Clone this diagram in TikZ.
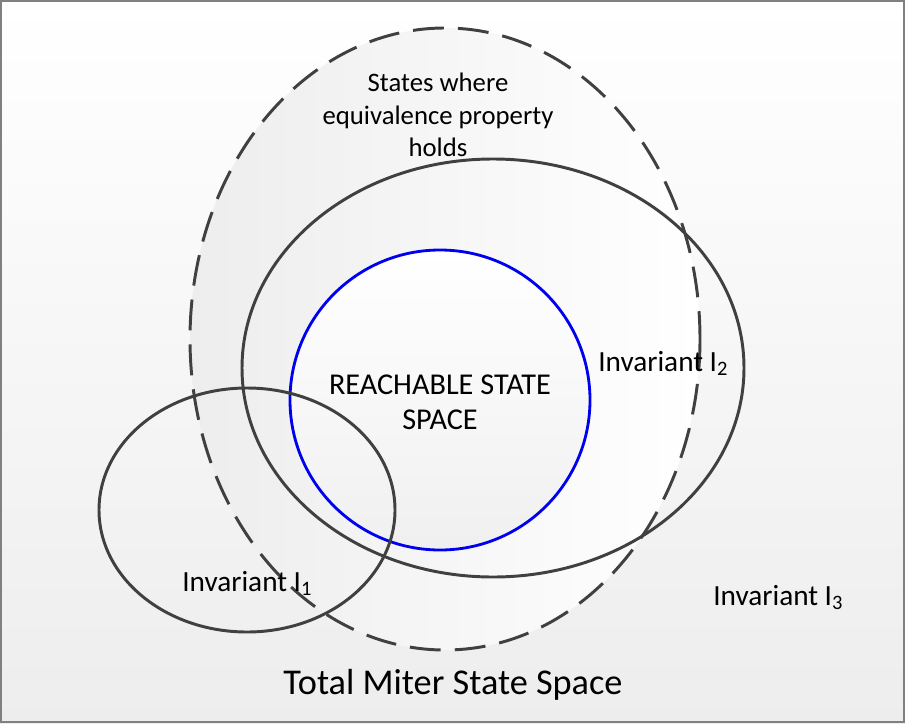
\documentclass[tikz,border=0pt]{standalone}
\usepackage{fontspec}
\setmainfont{Carlito}
\usepackage{xcolor}
\usepackage{tikz}

\definecolor{ringgray}{HTML}{404040}
\definecolor{framegray}{HTML}{808080}
\definecolor{reachblue}{HTML}{0000F0}

\tikzset{
  ring/.style={draw=ringgray, line width=2.1pt},
  dashring/.style={ring, dash pattern=on 22pt off 10pt},
  label/.style={inner sep=0pt, font=\fontsize{20.8}{25}\selectfont}
}

\begin{document}
\begin{tikzpicture}[x=0.025cm, y=-0.025cm]
\useasboundingbox (0,0) rectangle (905,723);
% background and frame
\shade[top color=white, bottom color=gray!14] (0,0) rectangle (905,723);
\draw[framegray, line width=1.4pt] (1.2,1.2) rectangle (903.8,721.8);

% fills
\shade[left color=gray!14, right color=white] (445,339) ellipse (255 and 311);
\shade[top color=white, bottom color=gray!12] (440,400) circle (150);

% the sets
\draw[dashring] (445,339) ellipse (255 and 311); % equivalence property holds
\draw[ring] (493,368) ellipse (251 and 209);     % invariant I2
\draw[reachblue, line width=2pt] (440,400) circle (150); % reachable states
\draw[ring] (247,510) ellipse (148 and 122);     % invariant I1

% labels
\node[font=\fontsize{19}{23}\selectfont, align=center] (equiv) at (438,115)
  {States where\\equivalence property\\holds};
\node[font=\fontsize{21.5}{25}\selectfont, align=center] (reach) at (440,402)
  {REACHABLE STATE\\SPACE};
\node[label, anchor=base west] (invtwo) at (598,371) {Invariant I\textsubscript{2}};
\node[label, anchor=base west] (invone) at (182,591) {Invariant I\textsubscript{1}};
\node[label, anchor=base west] (invthree) at (713,605) {Invariant I\textsubscript{3}};
\node[inner sep=0pt, font=\fontsize{25.8}{30}\selectfont, anchor=base] (total) at (453,694)
  {Total Miter State Space};
\end{tikzpicture}
\end{document}
